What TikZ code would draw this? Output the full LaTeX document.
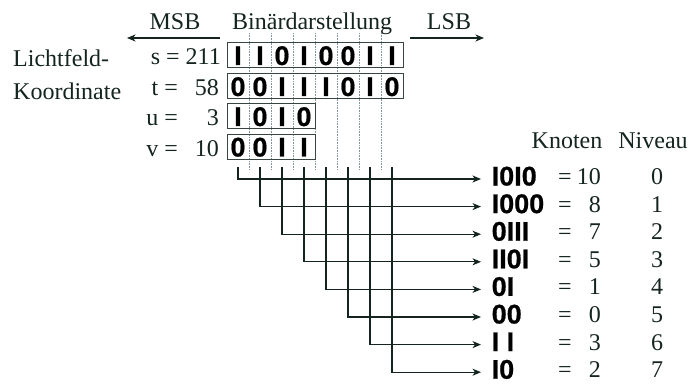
\documentclass[tikz,border=0pt]{standalone}
\usepackage{fontspec}
\setmainfont{Liberation Serif}
\newfontfamily\bitfamily{Liberation Sans}[BoldFeatures={FakeBold=0.7}]
\usetikzlibrary{arrows.meta}
\definecolor{ink}{rgb}{0.08,0.14,0.12}
\definecolor{gridline}{rgb}{0.5,0.58,0.6}
\begin{document}
\begin{tikzpicture}[x=1pt,y=-1pt,
  lbl/.style={inner sep=0pt, text=ink, font=\fontsize{24}{28}\selectfont},
  bit/.style={inner sep=0pt, text=black, font=\bitfamily\bfseries\fontsize{27}{30}\selectfont},
  nodelab/.style={bit, inner xsep=10.5pt, inner ysep=0pt, text height=13pt, text depth=0pt},
  wordbox/.style={draw=ink!85, line width=0.9pt, inner sep=0pt, minimum height=25pt, anchor=north west},
  guide/.style={draw=gridline, line width=0.6pt, densely dotted},
  link/.style={draw=ink, line width=1.1pt},
  tip/.style={-{Stealth[length=8.5pt,width=7pt,inset=2.5pt]}},
  ]
\useasboundingbox (0,0) rectangle (693,385);

% header with bit-order arrows
\node[lbl, anchor=base] (msb) at (175,30) {MSB};
\node[lbl, anchor=base west] (bin) at (232,30) {Binärdarstellung};
\node[lbl, anchor=base] (lsb) at (449,30) {LSB};
\coordinate (msbA) at (220,38);
\coordinate (msbB) at (127,38);
\coordinate (lsbA) at (410,38);
\coordinate (lsbB) at (484,38);
\draw[link, tip] (msbA) -- (msbB);
\draw[link, tip] (lsbA) -- (lsbB);

% coordinate names
\node[lbl, anchor=base west] (lf1) at (13,67) {Lichtfeld-};
\node[lbl, anchor=base west] (lf2) at (13,100) {Koordinate};
\node[lbl, anchor=base east] (sval) at (221,65) {s = 211};
\node[lbl, anchor=base east] (teq) at (178,96) {t =};
\node[lbl, anchor=base east] (tnum) at (219,96) {58};
\node[lbl, anchor=base east] (ueq) at (178,125) {u =};
\node[lbl, anchor=base east] (unum) at (219,125) {3};
\node[lbl, anchor=base east] (veq) at (178,156) {v =};
\node[lbl, anchor=base east] (vnum) at (219,156) {10};

% dotted column guides
\foreach \k in {0,...,6}
  \draw[guide] (249+22*\k,33) -- (249+22*\k,170);

% binary words
\node[wordbox, minimum width=176pt] (box-s) at (227,42.5) {};
\node[wordbox, minimum width=176pt] (box-t) at (227,73.5) {};
\node[wordbox, minimum width=88pt] (box-u) at (227,103.5) {};
\node[wordbox, minimum width=88pt] (box-v) at (227,134) {};
\foreach \r/\top/\bits in {s/42.5/{I,I,0,I,0,0,I,I}, t/73.5/{0,0,I,I,I,0,I,0},
                           u/103.5/{I,0,I,0}, v/134/{0,0,I,I}}
  \foreach \b [count=\i from 0] in \bits
    \node[bit, anchor=base] (b-\r-\i) at (238+22*\i,\top+22.5) {\b};

% column headers on the right
\node[lbl, anchor=base] (knoten) at (567,149) {Knoten};
\node[lbl, anchor=base] (niveau) at (653,149) {Niveau};

% regrouped bits per level
\foreach \lab/\val/\lev [count=\k from 0] in
  {I0I0/10/0, I000/8/1, 0III/7/2, II0I/5/3, 0I/1/4, 00/0/5, I I/3/6, I0/2/7}{
  \pgfmathsetmacro{\yy}{179+27.6*\k}
  \coordinate (top-\k) at (238+22*\k,167);
  \node[nodelab, anchor=west] (lab-\k) at (481,\yy) {\lab};
  \draw[link, tip] (top-\k) |- (lab-\k.west);
  \node[lbl, anchor=base] (eq-\k) at (565,\yy+5.5) {=};
  \node[lbl, anchor=base east] (num-\k) at (601,\yy+5.5) {\val};
  \node[lbl, anchor=base] (lev-\k) at (657,\yy+5.5) {\lev};
}
\end{tikzpicture}
\end{document}
